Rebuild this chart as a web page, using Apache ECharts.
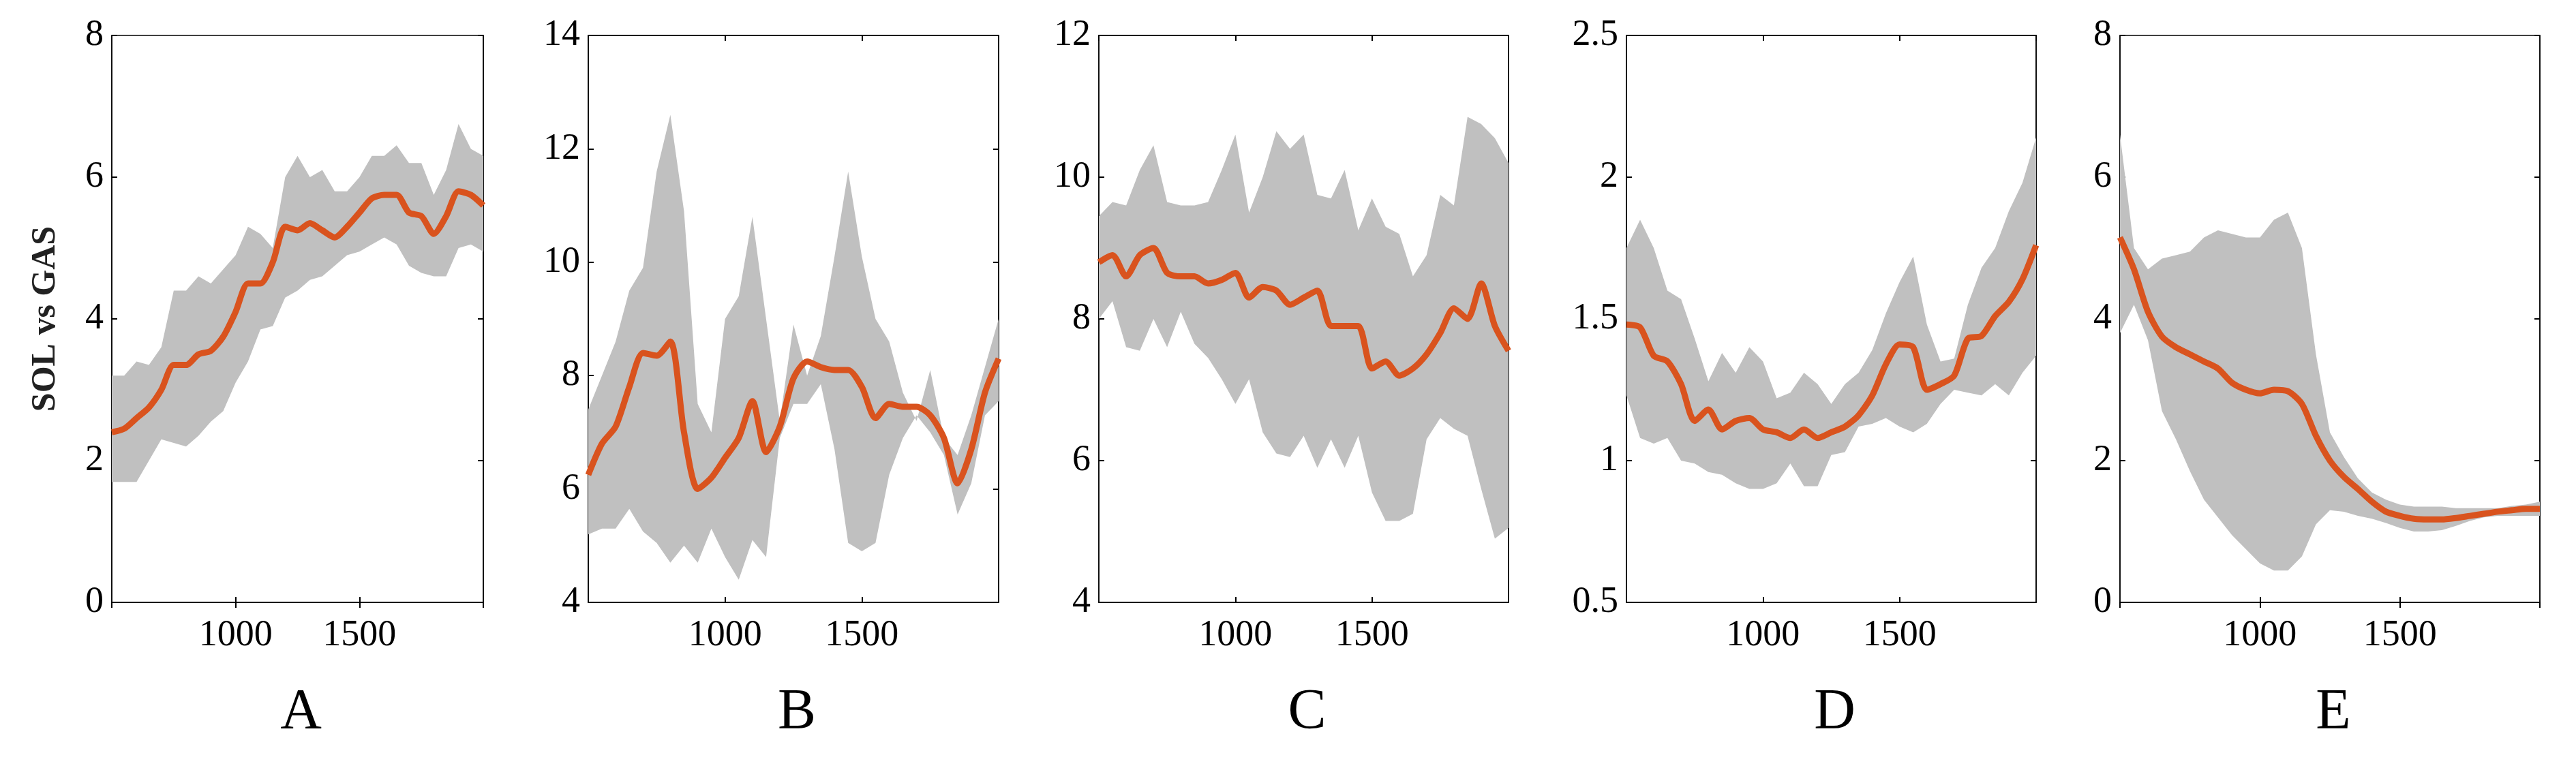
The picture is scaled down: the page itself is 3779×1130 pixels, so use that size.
<!DOCTYPE html>
<html><head><meta charset="utf-8">
<script src="https://cdn.jsdelivr.net/npm/echarts@6/dist/echarts.min.js"></script>
<style>html,body{margin:0;padding:0;background:#fff}#c{width:3779px;height:1130px}</style>
</head><body><div id="c"></div>
<script>
const xs = [500,550,600,650,700,750,800,850,900,950,1000,1050,1100,1150,1200,1250,1300,1350,1400,1450,1500,1550,1600,1650,1700,1750,1800,1850,1900,1950,2000];
const panelLetters = ['A','B','C','D','E'];
const xTickLabels = [1000,1500];

const meanA = [2.4,2.45,2.6,2.75,3.0,3.35,3.35,3.5,3.55,3.75,4.1,4.5,4.5,4.8,5.3,5.25,5.35,5.25,5.15,5.3,5.5,5.7,5.75,5.75,5.5,5.45,5.2,5.45,5.8,5.75,5.6];
const upA = [3.2,3.2,3.4,3.35,3.6,4.4,4.4,4.6,4.5,4.7,4.9,5.3,5.2,5.0,6.0,6.3,6.0,6.1,5.8,5.8,6.0,6.3,6.3,6.45,6.2,6.2,5.75,6.1,6.75,6.4,6.3];
const loA = [1.7,1.7,1.7,2.0,2.3,2.25,2.2,2.35,2.55,2.7,3.1,3.4,3.85,3.9,4.3,4.4,4.55,4.6,4.75,4.9,4.95,5.05,5.15,5.05,4.75,4.65,4.6,4.6,5.0,5.05,4.95];

const meanB = [6.25,6.8,7.1,7.8,8.4,8.35,8.6,7.0,6.0,6.2,6.55,6.9,7.55,6.65,7.1,7.95,8.25,8.15,8.1,8.1,7.8,7.25,7.5,7.45,7.45,7.3,6.9,6.1,6.7,7.7,8.3];
const upB = [7.4,8.0,8.6,9.5,9.9,11.6,12.6,10.9,7.5,7.0,9.0,9.4,10.8,9.0,7.2,8.9,8.0,8.7,10.1,11.6,10.1,9.0,8.6,7.7,7.2,8.1,6.9,6.6,7.3,8.15,9.0];
const loB = [5.2,5.3,5.3,5.65,5.25,5.05,4.7,5.0,4.7,5.3,4.8,4.4,5.1,4.8,6.9,7.5,7.5,7.85,6.7,5.05,4.9,5.05,6.25,6.9,7.3,7.0,6.6,5.55,6.1,7.3,7.55];

const meanC = [8.8,8.9,8.6,8.9,9.0,8.65,8.6,8.6,8.5,8.55,8.65,8.3,8.45,8.4,8.2,8.3,8.4,7.9,7.9,7.9,7.3,7.4,7.2,7.3,7.5,7.8,8.15,8.0,8.5,7.9,7.55];
const upC = [9.45,9.65,9.6,10.1,10.45,9.65,9.6,9.6,9.65,10.1,10.6,9.5,10.0,10.65,10.4,10.6,9.75,9.7,10.1,9.25,9.7,9.3,9.2,8.6,8.9,9.75,9.6,10.85,10.75,10.55,10.2];
const loC = [8.0,8.25,7.6,7.55,8.0,7.6,8.1,7.65,7.45,7.15,6.8,7.15,6.4,6.1,6.05,6.35,5.9,6.3,5.9,6.35,5.55,5.15,5.15,5.25,6.3,6.6,6.45,6.35,5.6,4.9,5.05];

const meanD = [1.48,1.47,1.37,1.35,1.27,1.14,1.18,1.11,1.14,1.15,1.11,1.1,1.08,1.11,1.08,1.1,1.12,1.16,1.23,1.34,1.41,1.4,1.25,1.27,1.3,1.43,1.44,1.51,1.56,1.64,1.76];
const upD = [1.75,1.85,1.75,1.6,1.57,1.43,1.28,1.38,1.31,1.4,1.35,1.22,1.24,1.31,1.27,1.2,1.27,1.31,1.39,1.52,1.63,1.72,1.48,1.35,1.36,1.55,1.68,1.75,1.88,1.98,2.14];
const loD = [1.23,1.08,1.06,1.08,1.0,0.99,0.96,0.95,0.92,0.9,0.9,0.92,0.99,0.91,0.91,1.02,1.03,1.12,1.13,1.15,1.12,1.1,1.13,1.2,1.25,1.24,1.23,1.27,1.23,1.31,1.37];

const meanE = [5.15,4.7,4.1,3.75,3.6,3.5,3.4,3.3,3.1,3.0,2.95,3.0,2.98,2.8,2.35,2.0,1.77,1.6,1.42,1.28,1.22,1.18,1.17,1.17,1.19,1.22,1.25,1.28,1.3,1.32,1.32];
const upE = [6.6,5.0,4.7,4.85,4.9,4.95,5.15,5.25,5.2,5.15,5.15,5.4,5.5,5.0,3.5,2.4,2.05,1.75,1.55,1.45,1.38,1.35,1.35,1.35,1.33,1.33,1.33,1.33,1.36,1.38,1.42];
const loE = [3.8,4.2,3.7,2.7,2.3,1.85,1.45,1.2,0.95,0.75,0.55,0.45,0.45,0.65,1.1,1.3,1.28,1.22,1.18,1.12,1.05,1.0,1.0,1.02,1.08,1.15,1.2,1.22,1.22,1.22,1.22];

const yMins = [0,4,4,0.5,0];
const yMaxs = [8,14,12,2.5,8];
const yIntervals = [2,2,2,0.5,2];

const means = [meanA,meanB,meanC,meanD,meanE];
const ups = [upA,upB,upC,upD,upE];
const los = [loA,loB,loC,loD,loE];

const lefts = [164,863,1612,2386,3110];
const widths = [545,602,601,601,616];
const TOP = 52, BOTTOM_Y = 884;
const FONT = 'Liberation Serif';

const grid=[],xAxis=[],yAxis=[],series=[],title=[];
for (let i=0;i<5;i++){
  grid.push({left:lefts[i],width:widths[i],top:TOP,height:BOTTOM_Y-TOP,show:true,borderColor:'#000',borderWidth:1.5});
  const baseX={type:'value',gridIndex:i,min:500,max:2000,interval:500,splitLine:{show:false},
    axisLine:{show:true,lineStyle:{color:'#000',width:1.5}},
    axisTick:{show:true,inside:true,length:8,lineStyle:{color:'#000',width:2}}};
  xAxis.push(Object.assign({},baseX,{position:'bottom',
    axisLabel:{show:true,showMinLabel:false,showMaxLabel:false,fontFamily:FONT,fontSize:54,color:'#000',margin:22,
      formatter:v=>xTickLabels.includes(v)?String(v):''}}));
  xAxis.push(Object.assign({},baseX,{position:'top',axisLabel:{show:false}}));
  const baseY={type:'value',gridIndex:i,min:yMins[i],max:yMaxs[i],interval:yIntervals[i],splitLine:{show:false},
    axisLine:{show:true,lineStyle:{color:'#000',width:1.5}},
    axisTick:{show:true,inside:true,length:8,lineStyle:{color:'#000',width:2}}};
  yAxis.push(Object.assign({},baseY,{position:'left',
    axisLabel:{fontFamily:FONT,fontSize:54,color:'#000',margin:12},
    name:i===0?'SOL vs GAS':'',nameLocation:'middle',nameGap:72,nameRotate:90,
    nameTextStyle:{fontFamily:FONT,fontWeight:'bold',fontSize:50,color:'#222'}}));
  yAxis.push(Object.assign({},baseY,{position:'right',axisLabel:{show:false}}));
  const xi=2*i, yi=2*i;
  const bandData = xs.map((x,k)=>[x,los[i][k],ups[i][k]]);
  series.push({type:'custom',xAxisIndex:xi,yAxisIndex:yi,silent:true,z:2,clip:true,
    data:bandData,encode:{x:0,y:[1,2]},
    renderItem:function(params,api){
      if(params.dataIndex!==0) return null;
      const pts=[];
      for(let k=0;k<bandData.length;k++) pts.push(api.coord([bandData[k][0],bandData[k][2]]));
      for(let k=bandData.length-1;k>=0;k--) pts.push(api.coord([bandData[k][0],bandData[k][1]]));
      return {type:'polygon',shape:{points:pts},style:{fill:'#c0c0c0'}};
    }});
  series.push({type:'line',xAxisIndex:xi,yAxisIndex:yi,symbol:'none',silent:true,z:5,
    lineStyle:{color:'#d9531e',width:9},data:xs.map((x,k)=>[x,means[i][k]]),smooth:0.25});
  title.push({text:panelLetters[i],left:lefts[i]+widths[i]/2,top:1000,textAlign:'center',
    textStyle:{fontFamily:FONT,fontSize:84,fontWeight:'normal',color:'#000'}});
}
const chart=echarts.init(document.getElementById('c'),null,{renderer:'canvas'});
chart.setOption({animation:false,backgroundColor:'#fff',grid,xAxis,yAxis,series,title});
</script></body></html>
